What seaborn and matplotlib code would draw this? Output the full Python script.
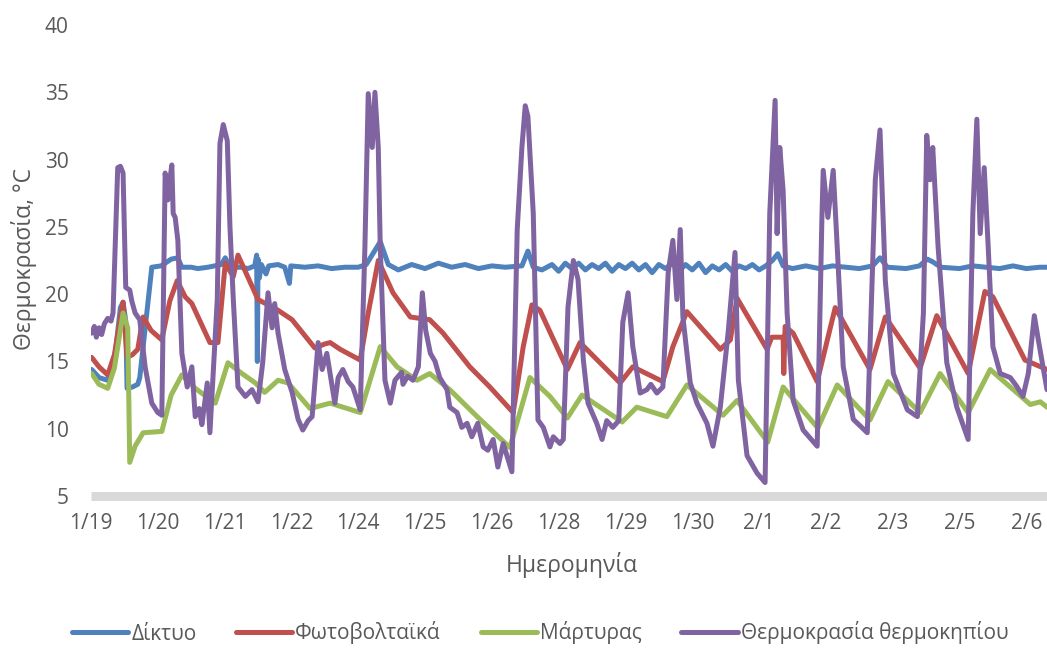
import numpy as np
import pandas as pd
import matplotlib
matplotlib.use("Agg")
import matplotlib.pyplot as plt
import seaborn as sns
from matplotlib.lines import Line2D

# ---------------- data (x = position along the category axis, 0 = 1/19) ----------------
tick_labels = ["1/19", "1/20", "1/21", "1/22", "1/24", "1/25", "1/26", "1/28",
               "1/29", "1/30", "2/1", "2/2", "2/3", "2/5", "2/6"]
series_names = ["Δίκτυο", "Φωτοβολταϊκά", "Μάρτυρας", "Θερμοκρασία θερμοκηπίου"]
series_colors = ["#4F81BD", "#C0504D", "#9BBB59", "#8064A2"]

grid_x = [0.01, 0.12, 0.25, 0.35, 0.44, 0.48, 0.52, 0.54, 0.62, 0.70, 0.73, 0.91, 1.05, 1.20,
          1.30, 1.36, 1.50, 1.60, 1.75, 1.85, 1.95, 2.01, 2.08, 2.25, 2.35, 2.45, 2.48, 2.49,
          2.50, 2.52, 2.55, 2.62, 2.66, 2.80, 2.90, 2.97, 2.99, 3.20, 3.40, 3.60, 3.80, 4.00,
          4.12, 4.33, 4.45, 4.60, 4.80, 5.00, 5.20, 5.40, 5.60, 5.80, 6.00, 6.20, 6.45, 6.54,
          6.62, 6.75, 6.90, 7.00, 7.10, 7.20, 7.30, 7.40, 7.50, 7.60, 7.70, 7.80, 7.90, 8.00,
          8.10, 8.20, 8.30, 8.40, 8.50, 8.60, 8.70, 8.80, 8.90, 9.00, 9.10, 9.20, 9.30, 9.40,
          9.50, 9.60, 9.70, 9.80, 9.90, 10.00, 10.10, 10.20, 10.28, 10.36, 10.50, 10.70, 10.90,
          11.10, 11.30, 11.50, 11.70, 11.81, 11.92, 12.20, 12.40, 12.52, 12.60, 12.72, 13.00,
          13.20, 13.40, 13.60, 13.80, 14.00, 14.20, 14.31]
grid_y = [14.4, 13.8, 13.6, 15.0, 19.0, 19.4, 18.0, 13.0, 13.1, 13.3, 13.8, 22.0, 22.1, 22.6,
          22.7, 22.0, 22.0, 21.9, 22.0, 22.1, 22.2, 22.7, 22.0, 22.0, 21.9, 22.1, 22.9, 15.0,
          22.6, 21.2, 22.2, 21.5, 22.1, 22.2, 22.0, 20.8, 22.1, 22.0, 22.1, 21.9, 22.0, 22.0,
          22.2, 23.9, 22.2, 21.8, 22.2, 21.9, 22.3, 22.0, 22.2, 21.9, 22.1, 22.0, 22.1, 23.2,
          22.0, 21.8, 22.2, 21.7, 22.3, 21.9, 22.3, 21.8, 22.2, 21.9, 22.3, 21.7, 22.2, 21.9,
          22.3, 21.8, 22.2, 21.6, 22.2, 21.9, 22.3, 21.7, 22.2, 21.8, 22.3, 21.6, 22.1, 21.8,
          22.2, 21.7, 22.1, 21.9, 22.2, 21.8, 22.1, 22.5, 23.0, 22.1, 21.9, 22.1, 21.9,
          22.1, 22.0, 21.9, 22.1, 22.7, 22.0, 21.9, 22.1, 22.6, 22.4, 22.0, 21.9,
          22.1, 22.0, 21.9, 22.1, 21.9, 22.0, 22.0]

pv_x = [0.01, 0.12, 0.25, 0.35, 0.48, 0.54, 0.62, 0.70, 0.78, 0.90, 1.06, 1.18, 1.29, 1.41,
        1.51, 1.78, 1.90, 2.01, 2.13, 2.20, 2.50, 2.80, 3.01, 3.35, 3.50, 3.58, 3.73, 4.03,
        4.15, 4.30, 4.52, 4.78, 5.07, 5.27, 5.67, 5.97, 6.32, 6.47, 6.60, 6.72, 7.13, 7.32,
        7.92, 8.11, 8.56, 8.71, 8.92, 9.42, 9.57, 9.67, 10.12, 10.19, 10.36, 10.37, 10.39,
        10.51, 10.87, 11.14, 11.66, 11.89, 12.41, 12.66, 13.13, 13.38, 13.50, 13.98, 14.31]
pv_y = [15.3, 14.6, 14.0, 15.5, 19.4, 15.3, 15.5, 15.9, 18.3, 17.3, 16.6, 19.5, 21.0, 19.8,
        19.3, 16.4, 16.4, 22.3, 21.3, 22.9, 19.6, 18.8, 18.1, 16.0, 16.3, 16.4, 15.9, 15.1,
        18.6, 22.5, 20.1, 18.3, 18.1, 17.1, 14.6, 13.1, 11.2, 16.1, 19.2, 18.8, 14.4, 16.4,
        13.4, 14.6, 13.5, 16.1, 18.7, 15.9, 16.6, 19.7, 15.9, 16.8, 16.8, 14.1, 17.6,
        17.1, 13.5, 19.0, 14.4, 18.3, 14.5, 18.4, 14.1, 20.2, 19.8, 15.1, 14.4]

control_x = [0.01, 0.12, 0.25, 0.35, 0.48, 0.55, 0.58, 0.66, 0.78, 1.06, 1.20, 1.36, 1.56,
             1.86, 2.05, 2.26, 2.46, 2.60, 2.80, 2.95, 3.28, 3.58, 4.03, 4.33, 4.58, 4.88,
             5.07, 5.37, 5.78, 6.27, 6.57, 6.87, 7.13, 7.35, 7.95, 8.17, 8.62, 8.92, 9.46,
             9.67, 10.13, 10.36, 10.88, 11.17, 11.66, 11.93, 12.41, 12.71, 13.13, 13.46,
             14.06, 14.21, 14.31]
control_y = [14.1, 13.3, 13.0, 14.5, 18.6, 17.5, 7.5, 8.7, 9.7, 9.8, 12.5, 14.0, 13.0,
             11.9, 14.9, 14.1, 13.4, 12.7, 13.6, 13.4, 11.5, 11.9, 11.2, 16.1, 14.6, 13.6,
             14.1, 12.9, 10.9, 8.6, 13.8, 12.4, 10.8, 12.5, 10.5, 11.6, 10.9, 13.25, 11.0,
             12.1, 9.0, 13.1, 10.05, 13.25, 10.65, 13.5, 11.2, 14.1, 11.2, 14.4,
             11.8, 12.0, 11.6]

green_x = [0.01, 0.05, 0.08, 0.12, 0.16, 0.20, 0.25, 0.30, 0.33, 0.40, 0.44, 0.48, 0.52, 0.58,
           0.61, 0.66, 0.73, 0.81, 0.91, 1.00, 1.06, 1.11, 1.15, 1.18, 1.21, 1.23, 1.26, 1.30,
           1.36, 1.44, 1.51, 1.56, 1.62, 1.66, 1.74, 1.78, 1.89, 1.93, 1.98, 2.04, 2.08, 2.13,
           2.20, 2.31, 2.41, 2.50, 2.57, 2.65, 2.71, 2.75, 2.80, 2.90, 3.01, 3.10, 3.17, 3.25,
           3.31, 3.40, 3.46, 3.53, 3.65, 3.70, 3.77, 3.85, 3.92, 4.03, 4.10, 4.15, 4.21, 4.25,
           4.30, 4.33, 4.40, 4.48, 4.55, 4.65, 4.67, 4.74, 4.82, 4.90, 4.96, 5.01, 5.08, 5.15,
           5.22, 5.33, 5.37, 5.48, 5.55, 5.63, 5.70, 5.79, 5.87, 5.94, 6.02, 6.09, 6.17, 6.30,
           6.38, 6.45, 6.50, 6.54, 6.62, 6.69, 6.77, 6.87, 6.92, 7.02, 7.07, 7.14, 7.22, 7.29,
           7.37, 7.44, 7.57, 7.65, 7.72, 7.81, 7.90, 7.96, 8.04, 8.11, 8.22, 8.32, 8.38, 8.47,
           8.56, 8.64, 8.71, 8.77, 8.82, 8.86, 8.97, 9.07,
           9.22, 9.31, 9.42, 9.54, 9.64, 9.69, 9.82, 9.97, 10.09, 10.16, 10.24, 10.27, 10.31,
           10.36, 10.42, 10.51, 10.66, 10.87, 10.94, 10.96, 11.03, 11.11, 11.17, 11.26, 11.41,
           11.62, 11.74, 11.81, 11.89, 12.01, 12.22, 12.37, 12.46, 12.51, 12.56, 12.60, 12.68,
           12.81, 12.96, 13.13, 13.20, 13.26, 13.31, 13.37, 13.43, 13.50, 13.61, 13.76, 13.85,
           13.95, 14.03, 14.12, 14.18, 14.31]
green_y = [17.1, 17.6, 16.8, 17.5, 17.0, 17.8, 18.2, 18.0, 18.6, 29.4, 29.5, 29.0, 20.5, 20.3,
           19.5, 18.6, 18.1, 14.6, 11.9, 11.2, 11.0, 29.0, 27.0, 28.5, 29.6, 26.0, 25.7, 24.0,
           15.6, 13.1, 14.6, 10.9, 11.5, 10.3, 13.4, 9.7, 19.6, 31.2, 32.6, 31.4, 25.0, 19.6,
           13.1, 12.4, 12.9, 12.0, 14.9, 20.1, 17.5, 19.3, 17.1, 14.4, 12.7, 10.7, 9.9, 10.6,
           10.9, 16.4, 14.4, 15.6, 11.9, 13.8, 14.4, 13.5, 13.1, 11.4, 23.5, 34.9, 30.9, 35.0,
           30.9, 23.5, 13.6, 11.9, 13.6, 14.2, 13.3, 13.9, 13.6, 14.6, 20.1, 17.3, 15.6, 15.0,
           13.8, 12.9, 11.6, 11.2, 10.1, 10.4, 9.4, 10.4, 8.65, 8.4, 9.2, 7.15, 8.9, 6.8,
           24.8, 30.9, 34.0, 33.2, 26.0, 10.65, 10.1, 8.65, 9.4, 8.9, 9.2, 19.05, 22.5, 21.1,
           15.1, 11.9, 10.4, 9.2, 10.6, 10.1, 10.6, 17.9, 20.1, 16.1, 12.65, 12.9, 13.3, 12.65,
           13.1, 21.6, 24.0, 19.6, 24.8, 18.3, 13.4, 11.9,
           10.4, 8.7, 11.6, 17.3, 23.1, 13.6, 8.0, 6.7, 6.0, 26.0, 34.4, 24.5, 30.9,
           27.7, 18.6, 12.1, 9.9, 8.7, 25.5, 29.2, 25.7, 29.2, 23.5, 14.6, 10.7,
           9.7, 28.5, 32.2, 21.0, 14.1, 11.4, 10.9, 18.6, 31.8, 28.5, 30.9, 23.5,
           14.9, 11.6, 9.2, 26.0, 33.0, 24.5, 29.4, 23.5, 16.1, 14.1, 13.8, 13.2,
           12.4, 14.1, 18.4, 16.6, 12.9]

# ---------------- long table for seaborn ----------------
frames = []
for name, xs, ys in zip(series_names,
                        [grid_x, pv_x, control_x, green_x],
                        [grid_y, pv_y, control_y, green_y]):
    frames.append(pd.DataFrame({"x": xs, "y": ys, "series": name}))
df = pd.concat(frames, ignore_index=True)

sns.set_theme(style="white")
plt.rcParams["font.family"] = ["Open Sans", "DejaVu Sans"]

text_col = "#595959"
W, H = 1047, 648
fig = plt.figure(figsize=(W / 100, H / 100), dpi=100)
ax = fig.add_axes([91 / W, 1 - 496 / H, (W - 91) / W, (496 - 25) / H])

sns.lineplot(data=df, x="x", y="y", hue="series", hue_order=series_names,
             palette=series_colors, sort=False, estimator=None, linewidth=3.6,
             legend=False, ax=ax)
for ln in ax.lines:
    ln.set_solid_joinstyle("round")
    ln.set_solid_capstyle("round")

ax.set_xlim(0, 14.31)
ax.set_ylim(5, 40)
ax.set_yticks(range(5, 41, 5))
ax.set_xticks(range(len(tick_labels)))
ax.set_xticklabels(tick_labels)
ax.tick_params(axis="both", length=0, labelsize=15, colors=text_col)
ax.tick_params(axis="x", pad=12)
ax.tick_params(axis="y", pad=16)
ax.set_xlabel("")
ax.set_ylabel("")
ax.grid(False)
for s in ["top", "right", "left"]:
    ax.spines[s].set_visible(False)
ax.spines["bottom"].set_color("#D9D9D9")
ax.spines["bottom"].set_linewidth(6.5)
ax.spines["bottom"].set_capstyle("butt")

fig.text(24 / W, 1 - 259 / H, "Θερμοκρασία, °C", rotation=90, ha="center", va="center",
         fontsize=16.5, color=text_col)
fig.text(572 / W, 1 - 565 / H, "Ημερομηνία", ha="center", va="center",
         fontsize=16.5, color=text_col)

handles = [Line2D([0], [0], color=c, lw=3.6, solid_capstyle="round") for c in series_colors]
fig.legend(handles, series_names, loc="center", bbox_to_anchor=(540 / W, 1 - 633 / H),
           ncol=4, frameon=False, fontsize=15, handlelength=2.7, handletextpad=0.15,
           columnspacing=1.9, labelcolor=text_col)

fig.savefig("out.png", dpi=100)
